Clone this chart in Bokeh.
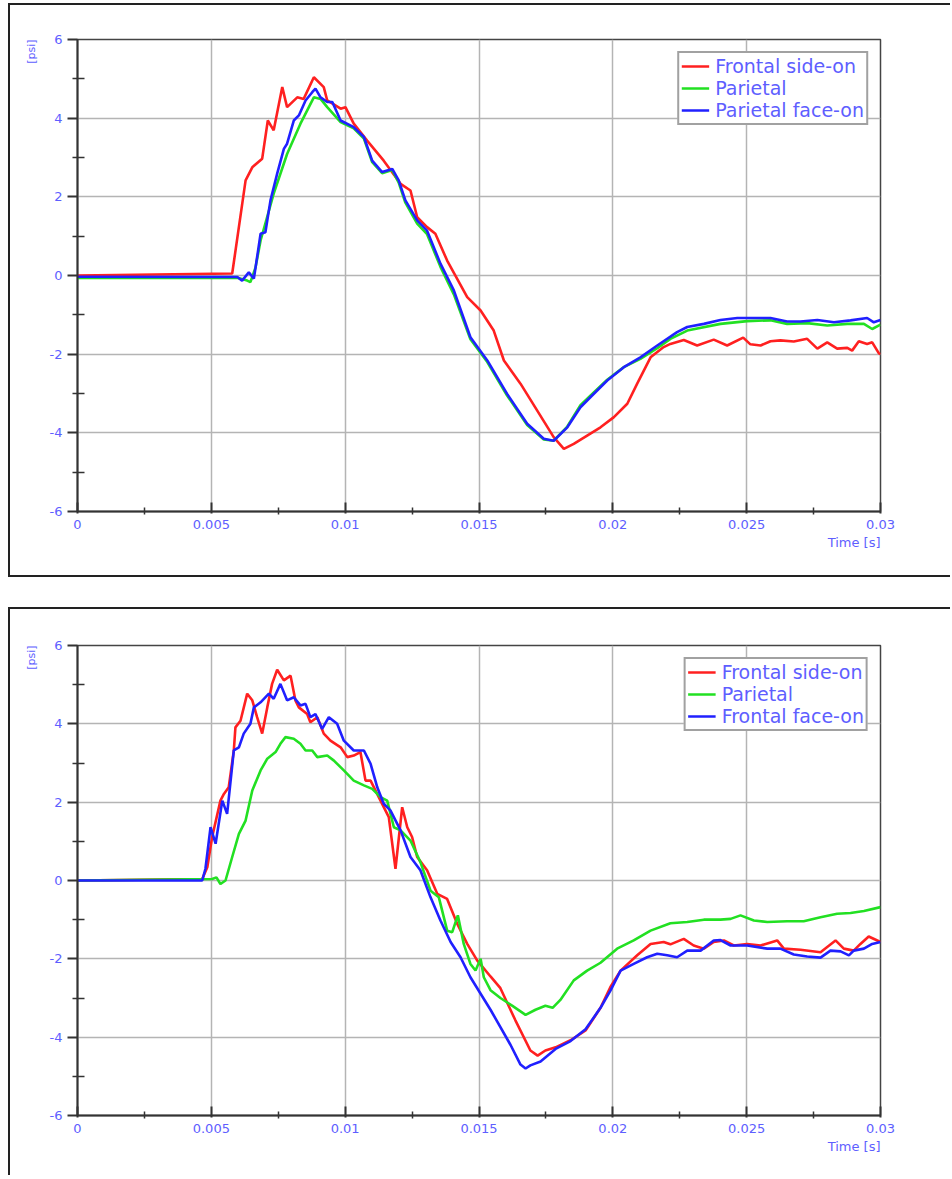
import numpy as np
from bokeh.plotting import figure
from bokeh.layouts import column
from bokeh.models import FixedTicker, NumeralTickFormatter, Title, Range1d
from bokeh.embed import file_html
from bokeh.resources import INLINE

# ---------------- data (time in ms, pressure in psi) ----------------
x_ticks = [0, 0.005, 0.01, 0.015, 0.02, 0.025, 0.03]
x_minor = [0.0025, 0.0075, 0.0125, 0.0175, 0.0225, 0.0275]
y_ticks = [-6, -4, -2, 0, 2, 4, 6]
y_minor = [-5, -3, -1, 1, 3, 5]

top_names = ["Frontal side-on", "Parietal", "Parietal face-on"]
bot_names = ["Frontal side-on", "Parietal", "Frontal face-on"]

top_red_t = [0, 5.78, 6.28, 6.53, 6.90, 7.11, 7.33, 7.65, 7.83, 8.21, 8.45, 8.83, 9.20, 9.33, 9.83,
             10.01, 10.32, 10.82, 11.44, 12.07, 12.44, 12.69, 13.06, 13.37, 13.81, 14.56, 15.06,
             15.55, 15.93, 16.55, 17.17, 17.79, 18.17, 18.54, 19.04, 19.54, 20.04, 20.54, 20.91,
             21.41, 21.90, 22.15, 22.65, 23.15, 23.77, 24.27, 24.87, 25.14, 25.52, 25.89, 26.26,
             26.76, 27.26, 27.64, 28.01, 28.38, 28.76, 28.94, 29.19, 29.50, 29.69, 29.94, 30.0]
top_red_v = [0.0, 0.05, 2.42, 2.75, 2.97, 3.94, 3.69, 4.79, 4.28, 4.53, 4.49, 5.04, 4.79, 4.45, 4.24,
             4.28, 3.86, 3.43, 2.92, 2.33, 2.16, 1.48, 1.23, 1.06, 0.38, -0.55, -0.89,
             -1.40, -2.16, -2.75, -3.43, -4.11, -4.41, -4.28, -4.07, -3.86, -3.60, -3.26, -2.75,
             -2.08, -1.82, -1.74, -1.64, -1.78, -1.63, -1.78, -1.58, -1.75, -1.78, -1.67, -1.65,
             -1.68, -1.61, -1.86, -1.70, -1.86, -1.84, -1.91, -1.67, -1.74, -1.70, -1.98, -2.0]

top_green_t = [0, 5.97, 6.34, 6.46, 6.65, 6.84, 7.33, 7.83, 8.33, 8.83, 9.08, 9.33, 9.83, 10.32,
               10.70, 11.01, 11.38, 11.76, 12.00, 12.25, 12.69, 13.06, 13.56, 14.06, 14.68, 15.31,
               16.05, 16.80, 17.42, 17.79, 18.30, 18.79, 19.17, 19.79, 20.41, 21.03, 21.66, 22.15,
               22.78, 24.02, 25.02, 25.89, 26.51, 27.26, 28.01, 28.76, 29.38, 29.69, 30.0]
top_green_v = [-0.06, -0.06, -0.13, -0.17, 0.2, 0.89, 2.08, 3.09, 3.86, 4.53, 4.49, 4.28, 3.90, 3.74,
               3.48, 2.88, 2.60, 2.68, 2.36, 1.85, 1.32, 1.05, 0.22, -0.48, -1.62, -2.20,
               -3.05, -3.80, -4.17, -4.20, -3.84, -3.30, -3.05, -2.65, -2.33, -2.12, -1.85, -1.61,
               -1.40, -1.23, -1.16, -1.14, -1.23, -1.21, -1.27, -1.23, -1.23, -1.36, -1.25]

top_blue_t = [0, 5.97, 6.15, 6.40, 6.59, 6.84, 7.02, 7.21, 7.46, 7.71, 7.83, 8.08, 8.27, 8.52, 8.77,
              8.89, 9.08, 9.33, 9.52, 9.83, 10.32, 10.70, 11.01, 11.38, 11.76, 12.00, 12.25, 12.69,
              13.06, 13.56, 14.06, 14.68, 15.31, 16.05, 16.80, 17.42, 17.79, 18.30, 18.79, 19.17,
              19.79, 20.41, 21.03, 21.66, 22.40, 22.78, 23.40, 24.02, 24.65, 25.27, 25.89, 26.51,
              27.01, 27.64, 28.26, 28.88, 29.50, 29.75, 30.0]
top_blue_v = [-0.03, -0.04, -0.13, 0.08, -0.08, 1.06, 1.10, 1.91, 2.59, 3.22, 3.35, 3.94, 4.07, 4.45, 4.66,
              4.75, 4.53, 4.41, 4.41, 3.94, 3.77, 3.52, 2.92, 2.63, 2.71, 2.42, 1.91, 1.40,
              1.14, 0.30, -0.38, -1.57, -2.16, -3.01, -3.77, -4.15, -4.20, -3.86, -3.35, -3.09,
              -2.67, -2.33, -2.08, -1.78, -1.44, -1.31, -1.23, -1.13, -1.08, -1.08, -1.08, -1.17,
              -1.17, -1.13, -1.19, -1.14, -1.08, -1.19, -1.13]

bot_red_t = [0, 4.66, 4.85, 5.03, 5.34, 5.47, 5.65, 5.84, 5.90, 6.09, 6.34, 6.53, 6.71, 6.90, 7.09,
             7.27, 7.46, 7.71, 7.96, 8.14, 8.27, 8.58, 8.70, 8.96, 9.20, 9.45, 9.83, 10.08, 10.32,
             10.57, 10.76, 10.95, 11.32, 11.63, 11.88, 12.13, 12.32, 12.50, 12.69, 13.06, 13.44,
             13.81, 14.19, 14.56, 14.93, 15.43, 15.80, 16.36, 16.92, 17.19, 17.48, 17.86, 18.42,
             18.98, 19.54, 19.91, 20.29, 20.91, 21.41, 21.90, 22.15, 22.65, 23.02, 23.40, 23.77,
             24.15, 24.52, 25.02, 25.52, 26.14, 26.39, 27.01, 27.76, 28.32, 28.63, 29.00, 29.25,
             29.56, 30.0]
bot_red_v = [0.0, 0.04, 0.34, 1.11, 2.04, 2.21, 2.38, 3.32, 3.91, 4.08, 4.77, 4.60, 4.17, 3.75, 4.42,
             5.02, 5.38, 5.11, 5.23, 4.60, 4.42, 4.25, 4.04, 4.17, 3.75, 3.57, 3.40, 3.15, 3.19,
             3.28, 2.55, 2.55, 2.04, 1.62, 0.30, 1.87, 1.36, 1.11, 0.60, 0.26, -0.34,
             -0.47, -1.11, -1.62, -2.04, -2.45, -2.75, -3.57, -4.34, -4.47, -4.34, -4.26, -4.08,
             -3.83, -3.25, -2.72, -2.30, -1.91, -1.62, -1.57, -1.63, -1.49, -1.66, -1.74, -1.57,
             -1.53, -1.66, -1.62, -1.66, -1.53, -1.74, -1.77, -1.83, -1.53, -1.74, -1.79, -1.62,
             -1.43, -1.57]

bot_green_t = [0, 5.03, 5.19, 5.34, 5.53, 5.78, 6.03, 6.28, 6.53, 6.84, 7.09, 7.40, 7.58, 7.77, 8.08,
               8.33, 8.52, 8.77, 8.96, 9.33, 9.58, 9.95, 10.32, 10.70, 11.01, 11.32, 11.57, 11.82,
               12.07, 12.44, 12.81, 13.19, 13.50, 13.81, 14.00, 14.21, 14.43, 14.68, 14.87, 15.06,
               15.18, 15.43, 15.80, 16.25, 16.74, 17.11, 17.48, 17.75, 18.04, 18.54, 19.04, 19.54,
               20.16, 20.78, 21.41, 22.15, 22.78, 23.40, 24.02, 24.40, 24.77, 25.27, 25.77, 26.51,
               27.13, 27.76, 28.38, 28.88, 29.38, 30.0]
bot_green_v = [0.0, 0.04, 0.08, -0.09, 0.0, 0.60, 1.19, 1.53, 2.30, 2.81, 3.11, 3.28, 3.49, 3.66, 3.62,
               3.49, 3.32, 3.32, 3.15, 3.19, 3.06, 2.81, 2.55, 2.43, 2.34, 2.13, 2.04, 1.36,
               1.28, 1.02, 0.47, -0.26, -0.43, -1.28, -1.32, -0.89, -1.62, -2.13, -2.30, -2.00,
               -2.47, -2.80, -3.00, -3.20, -3.43, -3.30, -3.20, -3.25, -3.05, -2.55, -2.30, -2.10,
               -1.74, -1.53, -1.28, -1.09, -1.06, -1.00, -1.00, -0.98, -0.89, -1.02, -1.06, -1.04,
               -1.04, -0.94, -0.85, -0.83, -0.78, -0.68]

bot_blue_t = [0, 4.66, 4.78, 4.97, 5.16, 5.41, 5.59, 5.84, 6.03, 6.21, 6.46, 6.59, 6.84, 7.15, 7.33,
              7.58, 7.83, 8.08, 8.33, 8.52, 8.70, 8.89, 9.14, 9.39, 9.70, 9.95, 10.32, 10.70, 10.95,
              11.20, 11.44, 11.69, 12.07, 12.44, 12.81, 13.19, 13.56, 13.94, 14.31, 14.68, 15.43,
              16.18, 16.55, 16.74, 16.92, 17.30, 17.86, 18.42, 18.98, 19.54, 19.91, 20.29, 20.78,
              21.28, 21.66, 22.03, 22.40, 22.78, 23.28, 23.77, 24.02, 24.40, 25.02, 25.77, 26.26,
              26.76, 27.26, 27.76, 28.13, 28.51, 28.82, 29.00, 29.38, 29.69, 30.0]
bot_blue_v = [0.0, 0.0, 0.3, 1.36, 0.94, 2.04, 1.70, 3.32, 3.40, 3.75, 4.00, 4.42, 4.55, 4.77, 4.64,
              5.02, 4.60, 4.68, 4.47, 4.51, 4.17, 4.25, 3.87, 4.17, 4.00, 3.57, 3.32, 3.32, 2.98,
              2.38, 1.96, 1.79, 1.28, 0.60, 0.26, -0.43, -1.02, -1.57, -1.96, -2.47, -3.30,
              -4.20, -4.70, -4.80, -4.72, -4.62, -4.30, -4.10, -3.80, -3.25, -2.81, -2.30, -2.13,
              -1.96, -1.87, -1.91, -1.96, -1.79, -1.79, -1.53, -1.52, -1.66, -1.66, -1.74, -1.74,
              -1.89, -1.94, -1.97, -1.79, -1.81, -1.91, -1.79, -1.74, -1.62, -1.57]

RED = "#ff2020"
GREEN = "#22e022"
BLUE = "#2020ff"
TXT = "#5e5eff"
FONT = "DejaVu Sans"


def make_panel(names, series, height, b_top, b_bottom, styles):
    p = figure(width=942, height=height, output_backend="svg", toolbar_location=None,
               x_range=Range1d(0, 0.03), y_range=Range1d(-6, 6),
               min_border_left=67, min_border_right=72,
               min_border_top=b_top, min_border_bottom=b_bottom)
    p.styles = styles
    p.background_fill_color = "white"
    p.border_fill_color = "white"
    p.outline_line_color = "#444444"
    p.outline_line_width = 1.5

    for name, (t, v), col in zip(names, series, [RED, GREEN, BLUE]):
        p.line(np.array(t) / 1000.0, v, line_color=col, line_width=2.6, legend_label=name)

    xa = p.xaxis[0]
    xa.ticker = FixedTicker(ticks=x_ticks, minor_ticks=x_minor)
    xa.formatter = NumeralTickFormatter(format="0.[000]")
    xa.major_tick_in = 9
    xa.major_tick_out = 2
    xa.minor_tick_in = 4
    xa.minor_tick_out = 3
    xa.major_label_standoff = 5
    ya = p.yaxis[0]
    ya.ticker = FixedTicker(ticks=y_ticks, minor_ticks=y_minor)
    ya.formatter = NumeralTickFormatter(format="0")
    ya.major_tick_in = 0
    ya.major_tick_out = 10
    ya.minor_tick_in = 7
    ya.minor_tick_out = 5
    ya.major_label_standoff = 5
    for ax in (xa, ya):
        ax.axis_line_color = "#333333"
        ax.axis_line_width = 2
        ax.major_tick_line_color = "#333333"
        ax.major_tick_line_width = 2
        ax.minor_tick_line_color = "#333333"
        ax.minor_tick_line_width = 1.5
        ax.major_label_text_color = TXT
        ax.major_label_text_font = FONT
        ax.major_label_text_font_size = "13px"

    p.xgrid.grid_line_color = "#b4b4b4"
    p.ygrid.grid_line_color = "#b4b4b4"
    p.xgrid.grid_line_width = 1.5
    p.ygrid.grid_line_width = 1.5

    p.add_layout(Title(text="Time [s]", align="right", text_color=TXT, text_font=FONT,
                       text_font_size="13px", text_font_style="normal", standoff=2), "below")
    p.add_layout(Title(text="[psi]", align="right", text_color=TXT, text_font=FONT,
                       text_font_size="11px", text_font_style="normal", standoff=17), "left")

    lg = p.legend[0]
    lg.location = "top_right"
    lg.margin = 12
    lg.padding = 2
    lg.spacing = 0
    lg.label_text_font = FONT
    lg.label_text_font_size = "19px"
    lg.label_text_color = TXT
    lg.label_height = 20
    lg.glyph_height = 20
    lg.glyph_width = 28
    lg.label_standoff = 6
    lg.border_line_color = "#444444"
    lg.border_line_width = 2
    lg.background_fill_alpha = 1.0
    return p


p1 = make_panel(top_names,
                [(top_red_t, top_red_v), (top_green_t, top_green_v), (top_blue_t, top_blue_v)],
                574, 34, 68,
                {"border-left": "2px solid #222", "border-top": "2px solid #222",
                 "border-bottom": "2px solid #222"})
p2 = make_panel(bot_names,
                [(bot_red_t, bot_red_v), (bot_green_t, bot_green_v), (bot_blue_t, bot_blue_v)],
                568, 36, 62,
                {"border-left": "2px solid #222", "border-top": "2px solid #222"})

layout = column(p1, p2, spacing=30, margin=(3, 0, 0, 8))
open("out.html", "w").write(file_html(layout, INLINE))
